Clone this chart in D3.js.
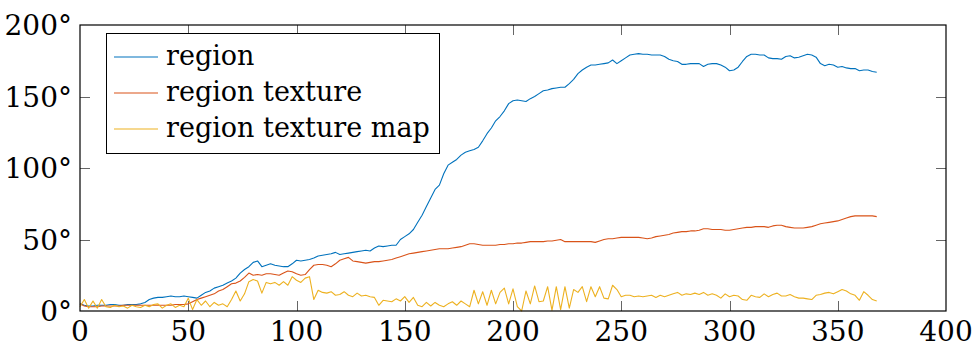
<!DOCTYPE html>
<html>
<head>
<meta charset="utf-8">
<script src="https://cdn.jsdelivr.net/npm/d3@7"></script>
<style>
  body { margin: 0; background: #fff; }
</style>
</head>
<body>
<svg width="973" height="347"></svg>
<script>
var svg = d3.select("svg"),
    plotLeft = 80, plotRight = 946, plotTop = 25, plotBottom = 311,
    font = "'DejaVu Serif', serif";

// frame index, sampled every 2 frames
var frames = d3.range(0, 369, 2);

var seriesNames = ["region", "region texture", "region texture map"];
var seriesColors = ["#0072bd", "#d95319", "#edb120"];

var region = [
  5,4,3.5,3.5,4,4,4,4.5,4.5,4,
  4,4.5,4.5,4.5,5,6,8,9,9.5,9.5,
  10,10.5,10,10,10.5,10,9.5,9,11,13,
  14,16,17,18,19.5,21,23,26.5,29,31,
  34,35,31,32,33,32,31.5,31,31,33,
  35.5,35,35.5,36,37,38.5,39,39.5,40,41,
  39.5,40,40.5,41,41.5,42,42.5,42,44,45.5,
  45,45.5,46,46,50,52,54,57,62,67,
  73,79,85,88,96,102,104,106,109,111,
  112,113,114.5,119,124,128,133,136,140,145,
  147,147.5,147,146.5,148.5,150,152,154,154.5,155.5,
  156,156.5,156.5,159,162,166,168.5,170.5,172,172,
  172.5,173,173.5,175.5,173,175,177,179,179.5,180,
  179.5,179.5,179,179,179,178,176,175,174.5,172.5,
  172.5,173,173,173,171,172.5,173,173,172,170.5,
  168,168.5,170.5,174.5,178,179.5,179.5,179,179,177,
  176.5,176.5,176,178,178.5,177,177.5,178.5,179.5,179,
  177.5,173,171.5,172.5,172,170.5,171,170,169.5,169.5,
  168,168.5,168.5,167.5,167
];

var regionTexture = [
  5,3.5,3,3,3,3.5,3.5,3.5,3.5,3.5,
  4,4,4,4,4,4,4,4,4,4,
  4,4,4.5,4.5,4.5,5,6.5,8,9,10,
  11,12,14,15,17,19,19.5,21,23.5,26.5,
  25,25.5,25,26,26,25.5,25,26.5,28,27.5,
  26,25,25.5,29,32,32.5,32.5,32,31,33,
  35.5,36.5,37.5,35,34.5,34,33.5,34,34.5,34.5,
  35,35.5,36,37,38,39,40,40.5,41,41.5,
  42,42.5,43,43.5,43.5,43.5,44,44.5,45,46,
  47,47,46.5,46,46,46,46,46.5,46.5,47,
  47,47.5,47.5,48,48.5,48.5,48.5,48.5,49,49,
  49.5,50,48.5,48.5,48.5,48.5,48.5,48.5,48.5,48,
  49,50,50.5,50.5,51,51.5,51.5,51.5,51.5,51.5,
  51,50.5,51,52,52.5,53,53.5,54.5,55,55.5,
  55.5,56,56,56.5,57.5,57.5,57,57,57,56.5,
  56.5,57,57.5,58,58.5,58.5,59,59,59,58.5,
  59.5,60,60,59,58.5,58,58,58,58.5,59,
  60,61,61.5,62,62.5,63,64,65,66,66.5,
  66.5,66.5,66.5,66.5,66
];

var regionTextureMap = [
  3,8,2,7,2,8,3,2.5,4,3,
  3.5,2,4,3,2.5,4,3,4.5,5,2,
  4,5,2.5,4,3,9,1,8,4,7,
  3,6,4,5,3,8,14,7,12,20.5,
  22,21,12.5,20,19,20,18,20.5,18,24,
  21.5,20,23,24,8,14.5,13,12.5,13.5,11,
  11.5,13.5,11,10,12.5,10.5,11,10,9.5,4,
  7.5,7,6.5,8.5,7,10,6,9.5,4,3,
  6,3.5,6,4,3,5,6.5,4,7,5,
  3,14.5,5,13.5,4,14.5,5,13,16,5,
  15.5,3,0,14,5,17.5,6.5,7,17,0.5,
  17,1,17,2,15,13,17,6.5,17,10,
  17,9,8.5,18,15,10,11,11,10,10.5,
  10,10.5,11,9.5,11,10,11,12,13,11,
  12,11.5,12.5,11.5,13,11,12,11,9,12,
  10,11,10.5,8,7.5,11,10,9.5,12,10,
  11.5,12.5,10.5,10.5,11.5,10,9,9,8.5,8,
  11,11.5,12.5,13,12,13.5,15,14,12,11,
  7.5,13.5,11,8,7
];

var xTicks = [0, 50, 100, 150, 200, 250, 300, 350, 400];
var yTicks = [0, 50, 100, 150, 200];

var x = d3.scaleLinear().domain([0, 400]).range([plotLeft, plotRight]);
var y = d3.scaleLinear().domain([0, 200]).range([plotBottom, plotTop]);

// inward ticks on all four sides
var tickLen = 10;
var ticks = svg.append("g").attr("stroke", "#666").attr("stroke-width", 1);
xTicks.slice(1, -1).forEach(function(t) {
  var px = Math.round(x(t)) + 0.5;
  ticks.append("line").attr("x1", px).attr("x2", px).attr("y1", plotBottom).attr("y2", plotBottom - tickLen);
  ticks.append("line").attr("x1", px).attr("x2", px).attr("y1", plotTop).attr("y2", plotTop + tickLen);
});
yTicks.slice(1, -1).forEach(function(t) {
  var py = Math.round(y(t)) + 0.5;
  ticks.append("line").attr("x1", plotLeft).attr("x2", plotLeft + tickLen).attr("y1", py).attr("y2", py);
  ticks.append("line").attr("x1", plotRight).attr("x2", plotRight - tickLen).attr("y1", py).attr("y2", py);
});

var line = d3.line()
    .x(function(d, i) { return x(frames[i]); })
    .y(function(d) { return y(d); });

[region, regionTexture, regionTextureMap].forEach(function(values, i) {
  svg.append("path")
      .datum(values)
      .attr("fill", "none")
      .attr("stroke", seriesColors[i])
      .attr("stroke-width", 1.1)
      .attr("stroke-linejoin", "round")
      .attr("d", line);
});

svg.append("rect")
    .attr("x", plotLeft).attr("y", plotTop)
    .attr("width", plotRight - plotLeft).attr("height", plotBottom - plotTop)
    .attr("fill", "none").attr("stroke", "#000").attr("stroke-width", 1.2);

svg.selectAll(".xlabel")
  .data(xTicks)
  .enter().append("text")
    .attr("x", function(d) { return x(d); })
    .attr("y", plotBottom + 30)
    .attr("text-anchor", "middle")
    .attr("font-family", font)
    .attr("font-size", 28)
    .text(function(d) { return d; });

svg.selectAll(".ylabel")
  .data(yTicks)
  .enter().append("text")
    .attr("x", plotLeft - 8)
    .attr("y", function(d) { return y(d) + 10; })
    .attr("text-anchor", "end")
    .attr("font-family", font)
    .attr("font-size", 28)
    .text(function(d) { return d + "°"; });

// legend
var legend = svg.append("g");
legend.append("rect")
    .attr("x", 106.5).attr("y", 33.5).attr("width", 333).attr("height", 120)
    .attr("fill", "#fff").attr("stroke", "#000").attr("stroke-width", 1);

seriesNames.forEach(function(name, i) {
  var ly = 57 + i * 36;
  legend.append("line")
      .attr("x1", 114).attr("x2", 158).attr("y1", ly).attr("y2", ly)
      .attr("stroke", seriesColors[i]).attr("stroke-width", 1.1);
  legend.append("text")
      .attr("x", 166).attr("y", ly + 8)
      .attr("font-family", font)
      .attr("font-size", 27)
      .text(name);
});
</script>
</body>
</html>
